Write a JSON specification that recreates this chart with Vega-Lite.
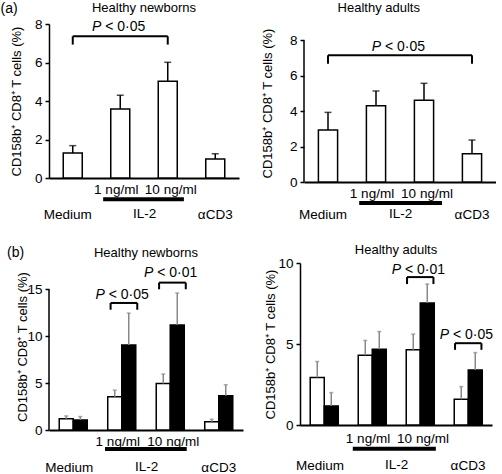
{
  "$schema": "https://vega.github.io/schema/vega-lite/v6.json",
  "padding": {"left": 0, "top": 2, "right": 0, "bottom": 0},
  "config": {
    "font": "Liberation Sans",
    "view": {"stroke": null},
    "title": {"fontSize": 13, "fontWeight": "normal", "color": "black", "font": "Liberation Sans"},
    "axis": {"labelOverlap": false},
    "axisY": {"domainColor": "black", "domainWidth": 1.5, "tickColor": "black", "tickWidth": 1.5, "tickSize": 4, "labelFontSize": 13.5, "labelColor": "black", "labelPadding": 3, "labelOverlap": false, "titleFontSize": 13, "titleFontWeight": "normal", "titleColor": "black", "grid": false},
    "axisX": {"domainColor": "black", "domainWidth": 2, "ticks": false, "tickSize": 0, "labelFontSize": 13.5, "labelColor": "black", "labelAngle": 0, "labelOverlap": false, "titleFontSize": 13.5, "titleFontWeight": "normal", "titleColor": "black", "grid": false},
    "text": {"font": "Liberation Sans", "color": "black"}
  },
  "datasets": {
    "a_newborns": [
      {"stim": "Medium", "mean": 1.30, "hi": 1.68},
      {"stim": "1 ng/ml", "mean": 3.58, "hi": 4.30},
      {"stim": "10 ng/ml", "mean": 5.02, "hi": 6.01},
      {"stim": "αCD3", "mean": 0.99, "hi": 1.26}
    ],
    "a_adults": [
      {"stim": "Medium", "mean": 2.93, "hi": 3.93},
      {"stim": "1 ng/ml", "mean": 4.30, "hi": 5.14},
      {"stim": "10 ng/ml", "mean": 4.62, "hi": 5.57},
      {"stim": "αCD3", "mean": 1.59, "hi": 2.37}
    ],
    "b_newborns": [
      {"stim": "Medium", "group": "white", "mean": 1.21, "hi": 1.50},
      {"stim": "Medium", "group": "black", "mean": 1.07, "hi": 1.43},
      {"stim": "1 ng/ml", "group": "white", "mean": 3.54, "hi": 4.25},
      {"stim": "1 ng/ml", "group": "black", "mean": 9.07, "hi": 12.46},
      {"stim": "10 ng/ml", "group": "white", "mean": 4.96, "hi": 5.96},
      {"stim": "10 ng/ml", "group": "black", "mean": 11.2, "hi": 14.6},
      {"stim": "αCD3", "group": "white", "mean": 0.89, "hi": 1.14},
      {"stim": "αCD3", "group": "black", "mean": 3.64, "hi": 4.82}
    ],
    "b_adults": [
      {"stim": "Medium", "group": "white", "mean": 2.93, "hi": 3.92},
      {"stim": "Medium", "group": "black", "mean": 1.18, "hi": 2.00},
      {"stim": "1 ng/ml", "group": "white", "mean": 4.31, "hi": 5.22},
      {"stim": "1 ng/ml", "group": "black", "mean": 4.68, "hi": 5.77},
      {"stim": "10 ng/ml", "group": "white", "mean": 4.64, "hi": 5.61},
      {"stim": "10 ng/ml", "group": "black", "mean": 7.53, "hi": 8.70},
      {"stim": "αCD3", "group": "white", "mean": 1.59, "hi": 2.37},
      {"stim": "αCD3", "group": "black", "mean": 3.40, "hi": 4.47}
    ],
    "a_newborns_p": [{"from": "Medium", "to": "10 ng/ml", "mid": "1 ng/ml", "top": 7.36, "bot": 6.93, "ty": 7.84, "label": "< 0·05"}],
    "a_adults_p": [{"from": "Medium", "to": "αCD3", "mid": "1 ng/ml", "top": 7.16, "bot": 6.67, "ty": 7.61, "label": "< 0·05"}],
    "b_newborns_p": [
      {"stim": "1 ng/ml", "top": 13.54, "bot": 12.82, "ty": 14.36, "label": "< 0·05"},
      {"stim": "10 ng/ml", "top": 15.71, "bot": 15.0, "ty": 16.75, "label": "< 0·01"}
    ],
    "b_adults_p": [
      {"stim": "10 ng/ml", "top": 9.13, "bot": 8.70, "ty": 9.59, "label": "< 0·01"},
      {"stim": "αCD3", "top": 5.05, "bot": 4.64, "ty": 5.57, "label": "< 0·05"}
    ],
    "il2": [{"from": "1 ng/ml", "to": "10 ng/ml"}],
    "axis8": [{"lo": 0, "hi": 8}],
    "axis15": [{"lo": 0, "hi": 15}]
  },
  "spacing": 23,
  "vconcat": [
    {
      "title": {"text": "(a)", "anchor": "start", "fontSize": 14, "offset": -14, "dx": -10},
      "spacing": 22,
      "hconcat": [
        {
          "width": 190, "height": 154,
          "title": {"text": "Healthy newborns", "frame": "group", "offset": 2},
          "layer": [
            {"data": {"name": "a_newborns"},
             "mark": {"type": "bar", "fill": "white", "stroke": "black", "strokeWidth": 1.5, "width": {"band": 0.4}},
             "encoding": {
               "x": {"field": "stim", "type": "nominal", "scale": {"domain": ["Medium", "1 ng/ml", "10 ng/ml", "αCD3"], "paddingInner": 0, "paddingOuter": 0},
                     "axis": {"title": "IL-2", "labelExpr": "datum.value == 'Medium' || datum.value == 'αCD3' ? ['', datum.value] : datum.value", "labelOffset": {"condition": [{"test": "datum.value == '1 ng/ml'", "value": -4}, {"test": "datum.value == '10 ng/ml'", "value": 3}, {"test": "datum.value == 'Medium'", "value": -5}], "value": 0}, "labelPadding": 4, "labelLineHeight": 25, "titlePadding": -14}},
               "y": {"field": "mean", "type": "quantitative", "scale": {"domain": [0, 8], "nice": false},
                     "axis": {"title": "CD158b⁺ CD8⁺ T cells (%)", "tickCount": 4, "labelOverlap": false, "titlePadding": 11}}}},
            {"data": {"name": "a_newborns"},
             "mark": {"type": "rule", "color": "black", "strokeWidth": 1.5},
             "encoding": {"x": {"field": "stim", "type": "nominal", "scale": {"domain": ["Medium", "1 ng/ml", "10 ng/ml", "αCD3"]}}, "y": {"field": "mean", "type": "quantitative"}, "y2": {"field": "hi"}}},
            {"data": {"name": "a_newborns"},
             "mark": {"type": "tick", "orient": "horizontal", "color": "black", "size": 7, "thickness": 1.5},
             "encoding": {"x": {"field": "stim", "type": "nominal", "scale": {"domain": ["Medium", "1 ng/ml", "10 ng/ml", "αCD3"]}}, "y": {"field": "hi", "type": "quantitative"}}},
            {"data": {"name": "a_newborns_p"},
             "mark": {"type": "rule", "color": "black", "strokeWidth": 2},
             "encoding": {"x": {"field": "from", "type": "nominal", "scale": {"domain": ["Medium", "1 ng/ml", "10 ng/ml", "αCD3"]}}, "x2": {"field": "to"}, "y": {"field": "top", "type": "quantitative"}}},
            {"data": {"name": "a_newborns_p"},
             "mark": {"type": "rule", "color": "black", "strokeWidth": 2},
             "encoding": {"x": {"field": "from", "type": "nominal", "scale": {"domain": ["Medium", "1 ng/ml", "10 ng/ml", "αCD3"]}}, "y": {"field": "top", "type": "quantitative"}, "y2": {"field": "bot"}}},
            {"data": {"name": "a_newborns_p"},
             "mark": {"type": "rule", "color": "black", "strokeWidth": 2},
             "encoding": {"x": {"field": "to", "type": "nominal", "scale": {"domain": ["Medium", "1 ng/ml", "10 ng/ml", "αCD3"]}}, "y": {"field": "top", "type": "quantitative"}, "y2": {"field": "bot"}}},
            {"data": {"name": "a_newborns_p"},
             "mark": {"type": "text", "text": "P", "fontStyle": "italic", "fontSize": 14, "align": "right", "baseline": "middle", "dx": -19},
             "encoding": {"x": {"field": "mid", "type": "nominal", "scale": {"domain": ["Medium", "1 ng/ml", "10 ng/ml", "αCD3"]}}, "y": {"field": "ty", "type": "quantitative"}}},
            {"data": {"name": "a_newborns_p"},
             "mark": {"type": "text", "fontSize": 14, "align": "left", "baseline": "middle", "dx": -15},
             "encoding": {"x": {"field": "mid", "type": "nominal", "scale": {"domain": ["Medium", "1 ng/ml", "10 ng/ml", "αCD3"]}}, "y": {"field": "ty", "type": "quantitative"}, "text": {"field": "label"}}},
            {"data": {"name": "il2"},
             "mark": {"type": "rule", "color": "black", "strokeWidth": 4},
             "encoding": {"x": {"field": "from", "type": "nominal", "bandPosition": 0.14, "scale": {"domain": ["Medium", "1 ng/ml", "10 ng/ml", "αCD3"]}}, "x2": {"field": "to", "bandPosition": 0.84}, "y": {"datum": -1.1}}}
          ]
        },
        {
          "width": 192, "height": 158,
          "title": {"text": "Healthy adults", "frame": "bounds", "offset": 9},
          "layer": [
            {"data": {"name": "a_adults"},
             "mark": {"type": "bar", "fill": "white", "stroke": "black", "strokeWidth": 1.5, "width": {"band": 0.4}},
             "encoding": {
               "x": {"field": "stim", "type": "nominal", "scale": {"domain": ["Medium", "1 ng/ml", "10 ng/ml", "αCD3"], "paddingInner": 0, "paddingOuter": 0},
                     "axis": {"title": "IL-2", "labelExpr": "datum.value == 'Medium' || datum.value == 'αCD3' ? ['', datum.value] : datum.value", "labelOffset": {"condition": [{"test": "datum.value == '1 ng/ml'", "value": -4}, {"test": "datum.value == '10 ng/ml'", "value": 3}, {"test": "datum.value == 'Medium'", "value": -5}], "value": 0}, "labelPadding": 4, "labelLineHeight": 21, "titlePadding": -14}},
               "y": {"field": "mean", "type": "quantitative", "scale": {"domain": [0, 8.92], "nice": false},
                     "axis": {"title": "CD158b⁺ CD8⁺ T cells (%)", "tickCount": 4, "labelOverlap": false, "domain": false, "titlePadding": 15}}}},
            {"data": {"name": "a_adults"},
             "mark": {"type": "rule", "color": "black", "strokeWidth": 1.5},
             "encoding": {"x": {"field": "stim", "type": "nominal", "scale": {"domain": ["Medium", "1 ng/ml", "10 ng/ml", "αCD3"]}}, "y": {"field": "mean", "type": "quantitative"}, "y2": {"field": "hi"}}},
            {"data": {"name": "a_adults"},
             "mark": {"type": "tick", "orient": "horizontal", "color": "black", "size": 7, "thickness": 1.5},
             "encoding": {"x": {"field": "stim", "type": "nominal", "scale": {"domain": ["Medium", "1 ng/ml", "10 ng/ml", "αCD3"]}}, "y": {"field": "hi", "type": "quantitative"}}},
            {"data": {"name": "a_adults_p"},
             "mark": {"type": "rule", "color": "black", "strokeWidth": 2},
             "encoding": {"x": {"field": "from", "type": "nominal", "scale": {"domain": ["Medium", "1 ng/ml", "10 ng/ml", "αCD3"]}}, "x2": {"field": "to"}, "y": {"field": "top", "type": "quantitative"}}},
            {"data": {"name": "a_adults_p"},
             "mark": {"type": "rule", "color": "black", "strokeWidth": 2},
             "encoding": {"x": {"field": "from", "type": "nominal", "scale": {"domain": ["Medium", "1 ng/ml", "10 ng/ml", "αCD3"]}}, "y": {"field": "top", "type": "quantitative"}, "y2": {"field": "bot"}}},
            {"data": {"name": "a_adults_p"},
             "mark": {"type": "rule", "color": "black", "strokeWidth": 2},
             "encoding": {"x": {"field": "to", "type": "nominal", "scale": {"domain": ["Medium", "1 ng/ml", "10 ng/ml", "αCD3"]}}, "y": {"field": "top", "type": "quantitative"}, "y2": {"field": "bot"}}},
            {"data": {"name": "a_adults_p"},
             "mark": {"type": "text", "text": "P", "fontStyle": "italic", "fontSize": 14, "align": "right", "baseline": "middle", "dx": -19},
             "encoding": {"x": {"field": "mid", "type": "nominal", "bandPosition": 1, "scale": {"domain": ["Medium", "1 ng/ml", "10 ng/ml", "αCD3"]}}, "y": {"field": "ty", "type": "quantitative"}}},
            {"data": {"name": "a_adults_p"},
             "mark": {"type": "text", "fontSize": 14, "align": "left", "baseline": "middle", "dx": -15},
             "encoding": {"x": {"field": "mid", "type": "nominal", "bandPosition": 1, "scale": {"domain": ["Medium", "1 ng/ml", "10 ng/ml", "αCD3"]}}, "y": {"field": "ty", "type": "quantitative"}, "text": {"field": "label"}}},
            {"data": {"name": "il2"},
             "mark": {"type": "rule", "color": "black", "strokeWidth": 4},
             "encoding": {"x": {"field": "from", "type": "nominal", "bandPosition": 0.15, "scale": {"domain": ["Medium", "1 ng/ml", "10 ng/ml", "αCD3"]}}, "x2": {"field": "to", "bandPosition": 0.875}, "y": {"datum": -1.19}}},
            {"data": {"name": "axis8"},
             "mark": {"type": "rule", "color": "black", "strokeWidth": 1.5},
             "encoding": {"x": {"datum": "Medium", "type": "nominal", "bandPosition": 0, "scale": {"domain": ["Medium", "1 ng/ml", "10 ng/ml", "αCD3"]}}, "y": {"field": "lo", "type": "quantitative"}, "y2": {"field": "hi"}}}
          ]
        }
      ]
    },
    {
      "title": {"text": "(b)", "anchor": "start", "fontSize": 14, "offset": -16, "dx": -10},
      "spacing": 21,
      "hconcat": [
        {
          "width": 194, "height": 167,
          "title": {"text": "Healthy newborns", "frame": "group", "offset": 3},
          "layer": [
            {"data": {"name": "b_newborns"},
             "mark": {"type": "bar", "stroke": "black", "strokeWidth": 1.5},
             "encoding": {
               "x": {"field": "stim", "type": "nominal", "scale": {"domain": ["Medium", "1 ng/ml", "10 ng/ml", "αCD3"], "paddingInner": 0, "paddingOuter": 0},
                     "axis": {"title": "IL-2", "labelExpr": "datum.value == 'Medium' || datum.value == 'αCD3' ? ['', datum.value] : datum.value", "labelOffset": {"condition": [{"test": "datum.value == '1 ng/ml'", "value": -4}, {"test": "datum.value == '10 ng/ml'", "value": 3}, {"test": "datum.value == 'Medium'", "value": -4}], "value": 0}, "labelPadding": 4, "labelLineHeight": 26, "titlePadding": -14}},
               "xOffset": {"field": "group", "type": "nominal", "scale": {"domain": ["white", "black"], "paddingInner": 0, "paddingOuter": 0.73}},
               "y": {"field": "mean", "type": "quantitative", "scale": {"domain": [0, 17.8], "nice": false},
                     "axis": {"title": "CD158b⁺ CD8⁺ T cells (%)", "values": [0, 5, 10, 15], "labelOverlap": false, "domain": false, "titlePadding": -3}},
               "fill": {"field": "group", "type": "nominal", "scale": {"domain": ["white", "black"], "range": ["white", "black"]}, "legend": null}}},
            {"data": {"name": "b_newborns"},
             "mark": {"type": "rule", "color": "#888888", "strokeWidth": 1.5},
             "encoding": {"x": {"field": "stim", "type": "nominal", "scale": {"domain": ["Medium", "1 ng/ml", "10 ng/ml", "αCD3"]}}, "xOffset": {"field": "group", "type": "nominal", "scale": {"domain": ["white", "black"]}}, "y": {"field": "mean", "type": "quantitative"}, "y2": {"field": "hi"}}},
            {"data": {"name": "b_newborns"},
             "mark": {"type": "tick", "orient": "horizontal", "color": "#888888", "size": 4, "thickness": 1.5},
             "encoding": {"x": {"field": "stim", "type": "nominal", "scale": {"domain": ["Medium", "1 ng/ml", "10 ng/ml", "αCD3"]}}, "xOffset": {"field": "group", "type": "nominal", "scale": {"domain": ["white", "black"]}}, "y": {"field": "hi", "type": "quantitative"}}},
            {"data": {"name": "b_newborns_p"},
             "mark": {"type": "rule", "color": "black", "strokeWidth": 2},
             "encoding": {"x": {"field": "stim", "type": "nominal", "bandPosition": 0.27, "scale": {"domain": ["Medium", "1 ng/ml", "10 ng/ml", "αCD3"]}}, "x2": {"field": "stim", "bandPosition": 0.82}, "y": {"field": "top", "type": "quantitative"}}},
            {"data": {"name": "b_newborns_p"},
             "mark": {"type": "rule", "color": "black", "strokeWidth": 2},
             "encoding": {"x": {"field": "stim", "type": "nominal", "bandPosition": 0.27, "scale": {"domain": ["Medium", "1 ng/ml", "10 ng/ml", "αCD3"]}}, "y": {"field": "top", "type": "quantitative"}, "y2": {"field": "bot"}}},
            {"data": {"name": "b_newborns_p"},
             "mark": {"type": "rule", "color": "black", "strokeWidth": 2},
             "encoding": {"x": {"field": "stim", "type": "nominal", "bandPosition": 0.82, "scale": {"domain": ["Medium", "1 ng/ml", "10 ng/ml", "αCD3"]}}, "y": {"field": "top", "type": "quantitative"}, "y2": {"field": "bot"}}},
            {"data": {"name": "b_newborns_p"},
             "mark": {"type": "text", "text": "P", "fontStyle": "italic", "fontSize": 14, "align": "right", "baseline": "middle", "dx": -17},
             "encoding": {"x": {"field": "stim", "type": "nominal", "scale": {"domain": ["Medium", "1 ng/ml", "10 ng/ml", "αCD3"]}}, "y": {"field": "ty", "type": "quantitative"}}},
            {"data": {"name": "b_newborns_p"},
             "mark": {"type": "text", "fontSize": 14, "align": "left", "baseline": "middle", "dx": -13},
             "encoding": {"x": {"field": "stim", "type": "nominal", "scale": {"domain": ["Medium", "1 ng/ml", "10 ng/ml", "αCD3"]}}, "y": {"field": "ty", "type": "quantitative"}, "text": {"field": "label"}}},
            {"data": {"name": "il2"},
             "mark": {"type": "rule", "color": "black", "strokeWidth": 4},
             "encoding": {"x": {"field": "from", "type": "nominal", "bandPosition": 0.155, "scale": {"domain": ["Medium", "1 ng/ml", "10 ng/ml", "αCD3"]}}, "x2": {"field": "to", "bandPosition": 0.84}, "y": {"datum": -2.03}}},
            {"data": {"name": "axis15"},
             "mark": {"type": "rule", "color": "black", "strokeWidth": 1.5},
             "encoding": {"x": {"datum": "Medium", "type": "nominal", "bandPosition": 0, "scale": {"domain": ["Medium", "1 ng/ml", "10 ng/ml", "αCD3"]}}, "y": {"field": "lo", "type": "quantitative"}, "y2": {"field": "hi"}}}
          ]
        },
        {
          "width": 192, "height": 162,
          "title": {"text": "Healthy adults", "frame": "group", "offset": -1},
          "layer": [
            {"data": {"name": "b_adults"},
             "mark": {"type": "bar", "stroke": "black", "strokeWidth": 1.5},
             "encoding": {
               "x": {"field": "stim", "type": "nominal", "scale": {"domain": ["Medium", "1 ng/ml", "10 ng/ml", "αCD3"], "paddingInner": 0, "paddingOuter": 0},
                     "axis": {"title": "IL-2", "labelExpr": "datum.value == 'Medium' || datum.value == 'αCD3' ? ['', datum.value] : datum.value", "labelOffset": {"condition": [{"test": "datum.value == '1 ng/ml'", "value": -4}, {"test": "datum.value == '10 ng/ml'", "value": 3}, {"test": "datum.value == 'Medium'", "value": -4}], "value": 0}, "labelPadding": 6, "labelLineHeight": 27, "titlePadding": -14}},
               "xOffset": {"field": "group", "type": "nominal", "scale": {"domain": ["white", "black"], "paddingInner": 0, "paddingOuter": 0.73}},
               "y": {"field": "mean", "type": "quantitative", "scale": {"domain": [0, 10], "nice": false},
                     "axis": {"title": "CD158b⁺ CD8⁺ T cells (%)", "values": [0, 5, 10], "labelOverlap": false, "titlePadding": 0}},
               "fill": {"field": "group", "type": "nominal", "scale": {"domain": ["white", "black"], "range": ["white", "black"]}, "legend": null}}},
            {"data": {"name": "b_adults"},
             "mark": {"type": "rule", "color": "#888888", "strokeWidth": 1.5},
             "encoding": {"x": {"field": "stim", "type": "nominal", "scale": {"domain": ["Medium", "1 ng/ml", "10 ng/ml", "αCD3"]}}, "xOffset": {"field": "group", "type": "nominal", "scale": {"domain": ["white", "black"]}}, "y": {"field": "mean", "type": "quantitative"}, "y2": {"field": "hi"}}},
            {"data": {"name": "b_adults"},
             "mark": {"type": "tick", "orient": "horizontal", "color": "#888888", "size": 4, "thickness": 1.5},
             "encoding": {"x": {"field": "stim", "type": "nominal", "scale": {"domain": ["Medium", "1 ng/ml", "10 ng/ml", "αCD3"]}}, "xOffset": {"field": "group", "type": "nominal", "scale": {"domain": ["white", "black"]}}, "y": {"field": "hi", "type": "quantitative"}}},
            {"data": {"name": "b_adults_p"},
             "mark": {"type": "rule", "color": "black", "strokeWidth": 2},
             "encoding": {"x": {"field": "stim", "type": "nominal", "bandPosition": 0.23, "scale": {"domain": ["Medium", "1 ng/ml", "10 ng/ml", "αCD3"]}}, "x2": {"field": "stim", "bandPosition": 0.78}, "y": {"field": "top", "type": "quantitative"}}},
            {"data": {"name": "b_adults_p"},
             "mark": {"type": "rule", "color": "black", "strokeWidth": 2},
             "encoding": {"x": {"field": "stim", "type": "nominal", "bandPosition": 0.23, "scale": {"domain": ["Medium", "1 ng/ml", "10 ng/ml", "αCD3"]}}, "y": {"field": "top", "type": "quantitative"}, "y2": {"field": "bot"}}},
            {"data": {"name": "b_adults_p"},
             "mark": {"type": "rule", "color": "black", "strokeWidth": 2},
             "encoding": {"x": {"field": "stim", "type": "nominal", "bandPosition": 0.78, "scale": {"domain": ["Medium", "1 ng/ml", "10 ng/ml", "αCD3"]}}, "y": {"field": "top", "type": "quantitative"}, "y2": {"field": "bot"}}},
            {"data": {"name": "b_adults_p"},
             "mark": {"type": "text", "text": "P", "fontStyle": "italic", "fontSize": 14, "align": "right", "baseline": "middle", "dx": -19},
             "encoding": {"x": {"field": "stim", "type": "nominal", "scale": {"domain": ["Medium", "1 ng/ml", "10 ng/ml", "αCD3"]}}, "y": {"field": "ty", "type": "quantitative"}}},
            {"data": {"name": "b_adults_p"},
             "mark": {"type": "text", "fontSize": 14, "align": "left", "baseline": "middle", "dx": -15},
             "encoding": {"x": {"field": "stim", "type": "nominal", "scale": {"domain": ["Medium", "1 ng/ml", "10 ng/ml", "αCD3"]}}, "y": {"field": "ty", "type": "quantitative"}, "text": {"field": "label"}}},
            {"data": {"name": "il2"},
             "mark": {"type": "rule", "color": "black", "strokeWidth": 4},
             "encoding": {"x": {"field": "from", "type": "nominal", "bandPosition": 0.1, "scale": {"domain": ["Medium", "1 ng/ml", "10 ng/ml", "αCD3"]}}, "x2": {"field": "to", "bandPosition": 0.83}, "y": {"datum": -1.46}}}
          ]
        }
      ]
    }
  ]
}
